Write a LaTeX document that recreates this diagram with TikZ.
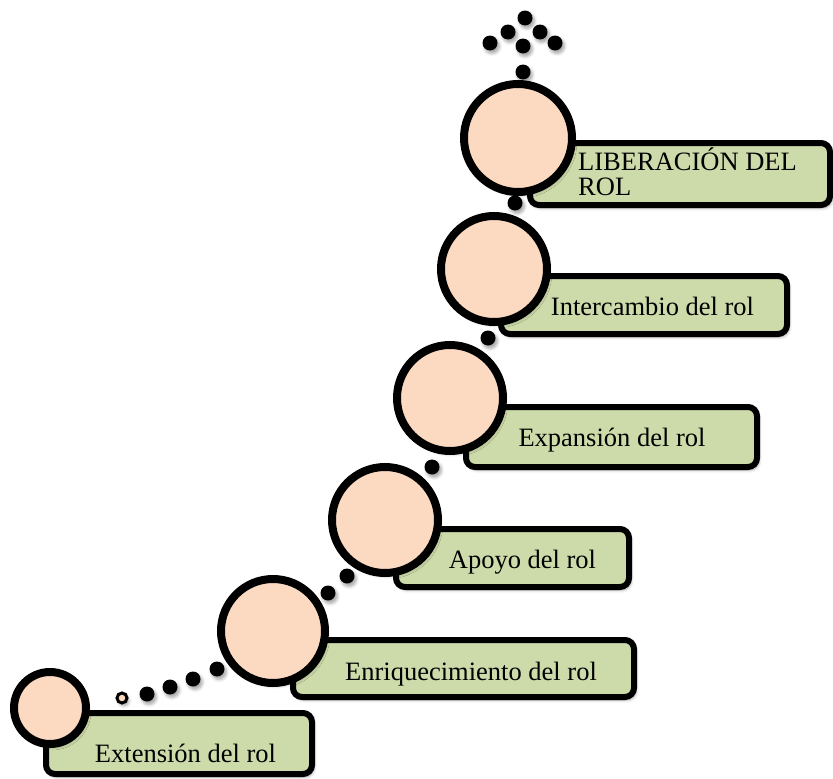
\documentclass[tikz,border=0pt]{standalone}
\usepackage{fontspec}
\setmainfont{Liberation Serif}
\usetikzlibrary{shadows.blur}
\definecolor{peach}{RGB}{252,218,194}
\definecolor{sage}{RGB}{205,219,170}
\begin{document}
\begin{tikzpicture}[x=1pt,y=-1pt,
  soft/.style={blur shadow={shadow xshift=2pt,shadow yshift=-3pt,shadow blur radius=3pt,shadow opacity=35}},
  stagebox/.style={draw=black,line width=6pt,fill=sage,rounded corners=9pt,soft,inner sep=0pt},
  stagecirc/.style={circle,draw=black,line width=8pt,fill=peach,soft,inner sep=0pt},
  lbl/.style={font=\fontsize{26.5}{25}\selectfont,inner sep=0pt,anchor=base},
  dot/.style={circle,fill=black,minimum size=15pt,inner sep=0pt,soft},
]
\useasboundingbox (0,0) rectangle (833,779);

% label boxes
\node[stagebox,minimum width=266pt,minimum height=61pt] (b1) at (179,743.5) {};
\node[stagebox,minimum width=341pt,minimum height=57pt] (b2) at (463.5,668.5) {};
\node[stagebox,minimum width=233pt,minimum height=58pt] (b3) at (512.5,558) {};
\node[stagebox,minimum width=291pt,minimum height=60pt] (b4) at (611.5,437) {};
\node[stagebox,minimum width=286pt,minimum height=58pt] (b5) at (644,305) {};
\node[stagebox,minimum width=300pt,minimum height=62pt] (b6) at (680,174) {};

% texts
\node[lbl] (t1) at (185.5,762) {Extensión del rol};
\node[lbl] (t2) at (471,680) {Enriquecimiento del rol};
\node[lbl] (t3) at (522.5,568) {Apoyo del rol};
\node[lbl] (t4) at (612,446) {Expansión del rol};
\node[lbl] (t5) at (652.5,315) {Intercambio del rol};
\node[lbl,anchor=base west] (t6a) at (578,170) {LIBERACIÓN DEL};
\node[lbl,anchor=base west] (t6b) at (578,195) {ROL};

% dotted steps between the circles
\foreach \p [count=\i] in {(147,694),(170,687),(193,679),(217,669),
    (328,593),(347,576),(432,467),(488,338),(515,203),(523,72),
    (525,18),(508,32),(540,32),(490,43),(523,46),(555,43)}
  \node[dot] (d\i) at \p {};
\node[circle,draw=black,line width=3pt,fill=peach,minimum size=10pt,inner sep=0pt,soft] (d0) at (122,698) {};

% stage circles
\node[stagecirc,minimum size=72pt] (c1) at (50,708) {};
\node[stagecirc,minimum size=104pt] (c2) at (273,631) {};
\node[stagecirc,minimum size=106pt] (c3) at (385,520) {};
\node[stagecirc,minimum size=106pt] (c4) at (450,398) {};
\node[stagecirc,minimum size=106pt] (c5) at (494,269) {};
\node[stagecirc,minimum size=108pt] (c6) at (518,138) {};
\end{tikzpicture}
\end{document}
